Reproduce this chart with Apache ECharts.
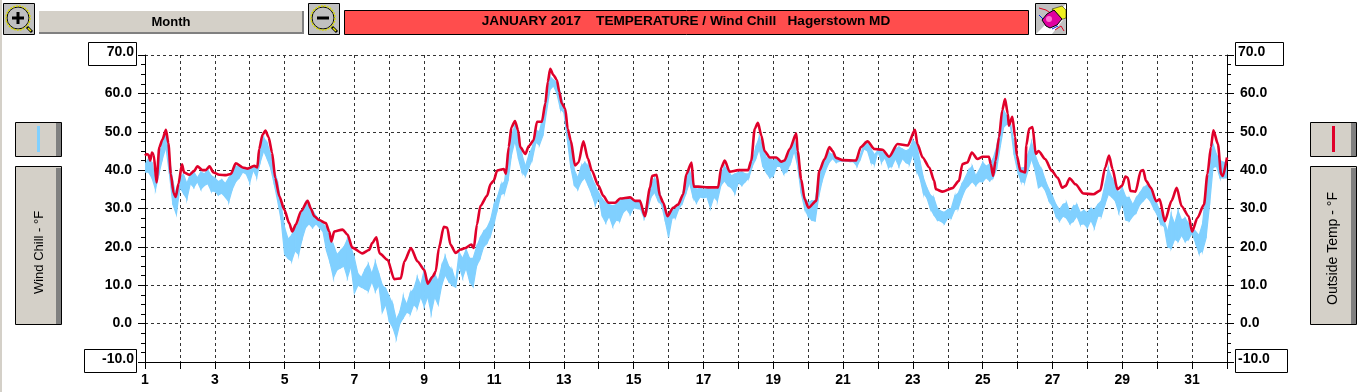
<!DOCTYPE html>
<html><head><meta charset="utf-8">
<style>html,body{margin:0;padding:0;background:#fff}#c{width:1365px;height:392px}</style>
<script src="https://cdn.jsdelivr.net/npm/echarts@6/dist/echarts.min.js"></script>
</head><body><div id="c"></div>
<script>
var titleText = 'JANUARY 2017    TEMPERATURE / Wind Chill   Hagerstown MD';
var rangeText = 'Month';
var leftAxisName = 'Wind Chill - °F';
var rightAxisName = 'Outside Temp - °F';
var yMin = -10, yMax = 70, yStep = 10;
var dayMin = 1, dayMax = 32;

// Outside temperature: day of month, then °F
var tempDays = [1.0,1.05,1.1,1.15,1.2,1.25,1.33,1.41,1.5,1.6,1.67,1.74,1.82,1.88,1.96,2.06,2.12,2.27,2.41,2.5,2.65,2.74,2.85,2.96,3.13,3.32,3.46,3.6,3.8,3.94,4.13,4.22,4.27,4.37,4.45,4.54,4.64,4.73,4.85,4.99,5.13,5.22,5.32,5.47,5.66,5.75,5.85,5.99,6.18,6.28,6.34,6.42,6.66,6.8,6.94,7.23,7.42,7.51,7.63,7.72,7.95,8.14,8.33,8.43,8.62,8.81,9.0,9.1,9.24,9.33,9.42,9.56,9.66,9.75,9.9,10.04,10.18,10.35,10.42,10.51,10.61,10.8,10.9,10.99,11.09,11.28,11.34,11.42,11.5,11.6,11.69,11.75,11.9,11.99,12.13,12.23,12.37,12.47,12.54,12.61,12.7,12.8,12.87,12.94,13.04,13.11,13.2,13.32,13.42,13.56,13.69,13.8,13.99,14.13,14.28,14.47,14.61,14.9,15.04,15.18,15.32,15.47,15.53,15.66,15.75,15.85,15.97,16.13,16.27,16.42,16.51,16.66,16.72,16.85,17.13,17.42,17.51,17.61,17.75,18.0,18.28,18.37,18.47,18.56,18.66,18.75,18.9,19.09,19.23,19.32,19.47,19.66,19.7,19.8,19.9,20.01,20.23,20.32,20.47,20.61,20.7,20.8,20.99,21.37,21.51,21.7,21.9,22.13,22.32,22.56,22.85,23.06,23.13,23.28,23.47,23.61,23.66,23.85,24.13,24.32,24.42,24.56,24.69,24.85,25.0,25.18,25.23,25.3,25.37,25.47,25.56,25.64,25.72,25.75,25.85,25.93,25.98,26.08,26.22,26.25,26.33,26.43,26.52,26.6,26.79,26.98,27.15,27.28,27.38,27.49,27.66,27.89,28.17,28.37,28.51,28.62,28.72,28.86,28.99,29.09,29.16,29.23,29.38,29.53,29.6,29.68,29.82,29.97,30.07,30.22,30.41,30.56,30.7,30.9,31.0,31.15,31.34,31.44,31.54,31.61,31.74,31.83,31.88,32.0];
var tempValues = [43.8,44.2,44.0,42.5,44.6,44.0,36.8,46.0,48.0,50.5,47.0,39.0,34.0,33.0,36.5,41.5,39.4,38.8,39.8,41.0,40.0,40.0,41.0,39.4,38.8,38.7,39.0,41.8,40.7,40.4,41.1,40.7,45.5,49.3,50.3,48.6,44.6,38.0,33.2,29.7,26.2,24.0,25.8,29.3,32.0,30.0,28.0,27.0,26.2,24.0,21.4,24.0,24.5,23.2,19.8,18.3,19.2,21.0,22.5,18.3,16.6,11.6,11.8,16.2,19.7,16.2,14.0,10.4,12.2,13.6,19.7,25.2,25.0,20.6,18.4,19.3,19.7,20.6,19.7,25.8,30.7,33.3,36.4,37.2,39.9,40.3,39.0,46.0,51.2,52.8,50.4,46.0,44.2,46.2,47.7,52.6,52.6,57.4,63.0,66.4,64.8,63.5,60.4,57.4,56.0,50.8,47.7,41.2,42.0,47.5,43.0,39.9,36.0,33.3,31.5,31.5,32.6,32.9,32.0,32.0,28.0,35.5,38.5,38.8,33.3,31.5,28.0,30.2,31.0,33.7,39.0,42.0,35.7,35.7,35.5,35.5,40.7,42.5,39.6,40.0,40.0,42.5,50.8,52.3,49.0,45.0,43.3,43.3,42.2,42.5,45.5,49.5,45.0,37.6,32.4,30.2,32.0,39.8,42.9,46.0,45.0,43.2,42.6,42.5,46.0,47.5,45.5,45.3,43.5,46.8,46.4,50.5,46.8,43.3,40.7,37.2,35.0,34.4,35.3,37.2,41.6,42.0,44.6,42.9,43.5,43.5,41.6,38.5,42.5,48.6,55.6,58.5,54.7,51.6,53.9,48.6,43.8,39.8,39.4,46.4,50.8,51.2,44.2,45.0,42.9,39.8,38.0,35.4,35.9,37.9,36.3,33.9,33.7,34.7,40.7,43.8,40.3,35.0,35.9,38.3,38.0,34.6,34.4,39.8,40.0,37.2,35.4,31.9,32.4,26.7,32.0,35.4,30.6,28.0,24.0,27.5,31.0,39.0,46.0,50.4,46.8,39.0,38.5,43.3];

// Wind chill, drawn as a band: upper and lower readings in °F, one pair per tenth of a day from day 1
var windFirstDay = 1, windSampleDays = 0.1;
var windHigh = [
41.5,43,42,37,44,47,49.8,43,37,33,
38,39,36.5,39,39.5,38,39.5,39,40,38.5,
38,37,37.5,36.5,38,39,41,41,40.5,40.5,
40.5,40.8,41,46,48.5,47,44,40,37,31,
25,22,23,25,26,29,31.5,31,29.5,28,
27,26,25,22,20.5,18,19,20,22,20,
17,13,12,14,15.5,13,16,13,10,9,
7,5,1,3,7,5,8,9,12,10,
14,11,12,13,11,15,17.5,15,14,11,
18.5,17,19.3,17,17,20,22.3,24,25,27,
31,33,36.2,37,44,49,51.7,48,44,41,
44,46,50.4,50,53.9,60,64.4,63.5,63,60,
56.5,49,47.3,40,38,41,42,41,38,36,
34,32.5,31.5,31,30.7,31,32,32.5,32.4,32.5,
32,32,31.5,28,32,36,38,36,32.4,30,
27.6,29.5,29.8,31,33.7,38,39.9,37,35,35.3,
35,35.2,35,35,35,39,41,40,38.5,39,
39.4,39.5,39,39,42.5,46,48.6,46,43.3,43,
42.5,43,42.5,42.3,43.8,45.5,48,44,36,33,
31.5,32,32,38,40.7,43,44.6,44,43,42.7,
42.7,42.5,42.4,42.4,42.4,44,46.8,47,45.5,44,
45.2,45,44.2,43.5,43.8,45.5,46,45.5,45,45.5,
47.7,47,42.5,38,35.4,33.5,32.8,30,29.3,29,
29.7,30,33.2,34,36.3,38,40,41,38.5,40,
42,41,41.6,43,46,51,55.6,54,52,47,
41,40.5,40.7,44,47.3,44,41.6,40,37.2,35,
33.2,31,29.7,31,31.5,29,30.6,31,28.9,29.5,
28.9,30,29.7,31,32,36,40.3,38,36.3,34,
35.4,33,32.8,31,32.8,34,35.4,36,35.4,33,
31,29,26.7,24,28.4,26,29.3,27,27.5,26,
24.9,24,23,26,35,40,46.8,44,42.5,42];
var windLow = [
39.5,39.5,38,35,39,43,46,39,31,28.5,
35.5,34,32.5,36.5,35.5,37,35,36,36.5,34.5,
34.5,33.5,34,33,31.8,35,37,38,39.5,39,
36.8,40,38.2,42,45,43,40.5,36.5,32,27,
18,17,16.3,19,18,22,25,26,25,26,
25,24,19,16,12,14,14.5,15,12,15,
8,10,9.5,9,8.5,11,8.5,10,3,5,
0.5,-1,-3.8,0,1.5,3,2.5,5,4,7,
4.5,7,2.8,7,5,10,12.7,11,10,9.5,
15,12,14.5,11,9.6,15,17,20,21,23,
26,30,33.7,34,37.2,44,47.7,43,39.5,38.5,
40.7,43,47.3,46.5,49,55,60.9,62,60,56,
55,48,40.7,36,35,37,38,36,33.7,31,
32.8,28,26.3,28,25.4,27,26.7,29,29.8,28.5,
30.2,30,29.8,27.5,29.8,33,34.2,32,31,27,
22.5,27.5,27.6,30,31.5,34,36.8,33,31.5,33,
32.8,33,30.2,33,32,36,37.2,36,35.4,34,
36.8,36,37,38,41,43,45.5,41,39.4,38,
38.5,41,41,39,39.8,42,45,41,34,30,
28,27,26.7,33,37.2,40,42,43,42,42.3,
42.4,42.3,42.2,42.2,41,43,45.5,45,42,41.5,
44.9,42,43.2,40.7,41,43,41,43,42,41.5,
44.2,40,38,34,32.8,30,28.4,27,26.7,26,
27.5,27.5,29.7,30,32.8,35,36,37,36,37,
37,38,37.2,38,40.3,46,51.2,52,51.2,44,
39.8,37,36.8,40,42.9,40,35.4,36,34.6,32,
30.6,28,26.7,28,27.5,26,26.7,28,25.8,26,
25,27,25,28,28,31,33.7,33,32,29,
31.5,27,26.7,28,28.9,31,32,33,32,30,
28.4,26,25.3,20,19.6,22,21.4,23,21.4,22,
23.6,21,18.3,19,22.3,31,40.7,41,38,38];

var tempData = tempDays.map(function(d,i){return [d,tempValues[i]];});
var windData = windHigh.map(function(h,i){return [windFirstDay+i*windSampleDays,h,windLow[i]];});

var FACE='#d4d0c8', EDGE='#808080';
var FONT='"Liberation Sans", Arial, sans-serif';

function rect(x,y,w,h,fill,stroke,z){return {type:'rect',silent:true,z:z||1,shape:{x:x,y:y,width:w,height:h},style:{fill:fill,stroke:stroke||null,lineWidth:stroke?1:0}};}
function txt(x,y,s,font,rot){return {type:'text',silent:true,z:5,x:x,y:y,rotation:rot||0,style:{text:s,font:font,fill:'#000',align:'center',verticalAlign:'middle'}};}
function line(x1,y1,x2,y2,c,w,z){return {type:'line',silent:true,z:z||4,shape:{x1:x1,y1:y1,x2:x2,y2:y2},style:{stroke:c,lineWidth:w}};}
function sideButton(x,c){
  return [
    rect(x+.5,122.5,46,34,FACE,'#000'),
    rect(x+41,123,5,33,EDGE),
    line(x+23.5,126,x+23.5,152,c,3),
    rect(x+.5,166.5,46,158,FACE,'#000'),
    rect(x+41,168,5,156,EDGE)
  ];
}
function zoomIcon(x,plus){
  var cx=x+15, cy=19;
  var g=[
    rect(x+.5,3.5,31,31,'#c0c0c0','#000'),
    {type:'circle',silent:true,z:3,shape:{cx:cx,cy:cy-1,r:11},style:{fill:'#c0c0c0',stroke:'#000',lineWidth:1}},
    {type:'circle',silent:true,z:3,shape:{cx:cx,cy:cy-1,r:12},style:{fill:null,stroke:'#d8d800',lineWidth:1.5,lineDash:[2,1]}},
    line(cx+9,cy+8,cx+14,cy+13,'#000',3),
    line(cx+10,cy+9,cx+13,cy+12,'#e8e800',1.5,5),
    line(cx-6,cy-1,cx+6,cy-1,'#000',3)
  ];
  if(plus) g.push(line(cx,cy-7,cx,cy+5,'#000',3));
  return g;
}
var eraser=[
  rect(1035.5,3.5,31,31,'#fff','#000'),
  {type:'polygon',silent:true,z:2,shape:{points:[[1036,4],[1066,4],[1036,34]]},style:{fill:'#c0c0c0'}},
  {type:'polygon',silent:true,z:2,shape:{points:[[1066,16],[1066,34],[1052,34]]},style:{fill:'#c0c0c0'}},
  {type:'polyline',silent:true,z:3,shape:{points:[[1039,8],[1046,10],[1052,14]]},style:{stroke:'#e00020',fill:null,lineWidth:1}},
  {type:'polyline',silent:true,z:3,shape:{points:[[1039,15],[1043,19]]},style:{stroke:'#0020e0',fill:null,lineWidth:1}},
  {type:'polyline',silent:true,z:3,shape:{points:[[1055,30],[1061,26],[1064,31]]},style:{stroke:'#e00020',fill:null,lineWidth:1}},
  {type:'polyline',silent:true,z:3,shape:{points:[[1052,29],[1058,26]]},style:{stroke:'#0020e0',fill:null,lineWidth:1}},
  {type:'polygon',silent:true,z:4,shape:{points:[[1052,9],[1062,6],[1066,10],[1066,18],[1060,20]]},style:{fill:'#f0f020',stroke:'#000',lineWidth:.5}},
  {type:'polygon',silent:true,z:4,shape:{points:[[1047,14],[1054,10],[1062,19],[1057,25],[1050,28],[1046,26],[1042,20]]},style:{fill:'#e000a0',stroke:'#000',lineWidth:1}},
  {type:'circle',silent:true,z:5,shape:{cx:1049,cy:19,r:3},style:{fill:'#ff70d0'}}
];

var graphics=[
  rect(0,0,2,392,FACE,null,0),
  rect(39,11,264,23,FACE),
  rect(39,32,264,2,EDGE),
  rect(302,11,2,23,EDGE),
  txt(171,22.5,rangeText,'bold 13px '+FONT),
  rect(344.5,10.5,684,24,'#ff4d4d','#000'),
  txt(686,21,titleText,'bold 13.6px '+FONT),
  // boxes around the end labels of the value axes
  rect(88.5,42.5,48,23,'#fff','#000',-1),
  rect(84.5,349.5,52,23,'#fff','#000',-1),
  rect(1235.5,42.5,48,23,'#fff','#000',-1),
  rect(1235.5,349.5,52,23,'#fff','#000',-1),
  txt(39,252.5,leftAxisName,'13px '+FONT,Math.PI/2),
  txt(1333.5,248.5,rightAxisName,'14px '+FONT,Math.PI/2)
].concat(zoomIcon(3,true),zoomIcon(308,false),eraser,sideButton(15,'#80d0ff'),sideButton(1310,'#e0002a'));

function labelStyle(pad){return {fontFamily:FONT,fontWeight:'bold',fontSize:14,color:'#000',padding:pad};}
function yAxisOpt(pos,rich){
  return {
    type:'value',position:pos,min:yMin,max:yMax,interval:yStep,
    axisLine:{show:true,onZero:false,lineStyle:{color:'#000',width:1}},
    axisTick:{show:true,length:7,lineStyle:{color:'#000',width:1}},
    minorTick:{show:true,splitNumber:4,length:4,lineStyle:{color:'#000',width:1}},
    axisLabel:{show:true,margin:11,fontFamily:FONT,fontWeight:'bold',fontSize:14,color:'#000',showMinLabel:true,showMaxLabel:true,hideOverlap:false,
      formatter:function(v){var s=v.toFixed(1);return (v===yMin||v===yMax)?'{e|'+s+'}':'{n|'+s+'}';},rich:rich},
    splitLine:{show:pos==='left',lineStyle:{color:'#333',width:1,type:[3,3]}},
    minorSplitLine:{show:false}
  };
}
var richL={e:labelStyle([0,0,6,0]),n:labelStyle([0,2,0,0])};
var richR={e:labelStyle([0,0,6,0]),n:labelStyle([0,0,0,2])};

var option={
  animation:false,
  backgroundColor:'#fff',
  grid:{left:145,top:55,width:1082,height:307,containLabel:false,show:false},
  xAxis:{type:'value',min:dayMin,max:dayMax,interval:1,
    axisLine:{show:true,onZero:false,lineStyle:{color:'#000',width:1}},
    axisTick:{show:true,length:7,lineStyle:{color:'#000',width:1}},
    axisLabel:{show:true,margin:11,fontFamily:FONT,fontWeight:'bold',fontSize:14,color:'#000',showMinLabel:true,showMaxLabel:true,hideOverlap:false,
      formatter:function(v){return v%2===1?String(v):'';}},
    splitLine:{show:true,lineStyle:{color:'#333',width:1,type:[3,3]}}
  },
  yAxis:[yAxisOpt('left',richL),yAxisOpt('right',richR)],
  graphic:{elements:graphics},
  series:[
    {name:'Wind Chill',type:'custom',yAxisIndex:0,data:windData,z:2,clip:true,
      encode:{x:0,y:[1,2]},
      renderItem:function(params,api){
        var i=params.dataIndex;
        var n=windData[i+1]||[Math.min(api.value(0)+windSampleDays,dayMax),api.value(1),api.value(2)];
        var a=api.coord([api.value(0),api.value(1)]),
            b=api.coord([n[0],n[1]]),
            c=api.coord([n[0],n[2]]),
            d=api.coord([api.value(0),api.value(2)]);
        return {type:'polygon',shape:{points:[a,b,c,d]},style:{fill:'#80d0ff',stroke:'#80d0ff',lineWidth:1.2}};
      }},
    {name:'Outside Temp',type:'line',yAxisIndex:1,data:tempData,z:3,showSymbol:false,smooth:0.25,smoothMonotone:'x',
      lineStyle:{color:'#e0002a',width:2.6},emphasis:{disabled:true}}
  ]
};
var chart=echarts.init(document.getElementById('c'),null,{renderer:'canvas'});
chart.setOption(option);
</script></body></html>
